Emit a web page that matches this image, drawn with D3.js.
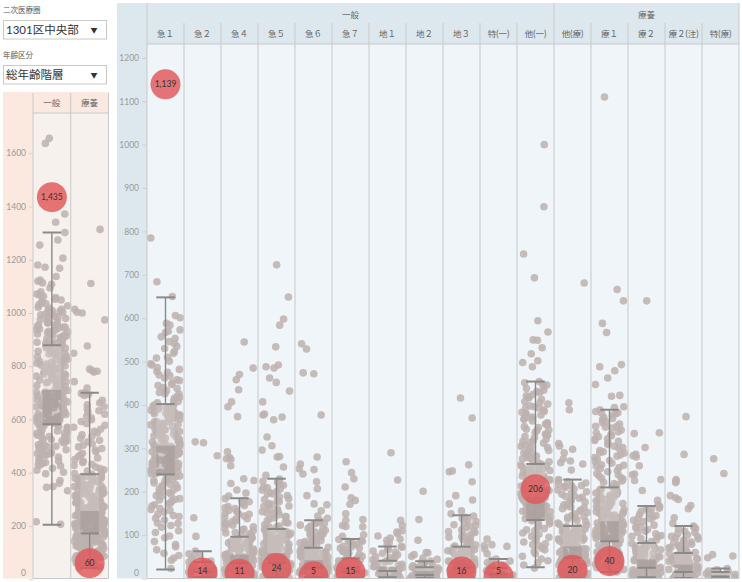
<!DOCTYPE html>
<html><head><meta charset="utf-8">
<script src="https://cdn.jsdelivr.net/npm/d3@7/dist/d3.min.js"></script>
<style>body{margin:0;background:#fff;}svg{display:block;}</style>
</head><body><svg id="c" width="742" height="582"></svg>
<script>
// ---------------- data ----------------
const filterLabels = ["二次医療圏", "年齢区分"];
const filterValues = ["1301区中央部", "総年齢階層"];

const leftCategories = ["一般", "療養"];
const leftTicks = [0, 200, 400, 600, 800, 1000, 1200, 1400, 1600];
const leftSelected = [1435, 60];
const leftLow = [205, 42];
const leftQ1 = [582, 172];
const leftMedian = [711, 256];
const leftQ3 = [879, 394];
const leftHigh = [1302, 700];

const leftIppan = [1656,1637,1372,1341,1302,1274,1255,1206,1180,1172,1168,1137,1124,1119,1113,1108,1094,1080,
1071,1066,1058,1049,1043,1038,1031,1027,1022,1014,1011,1006,1002,998,993,988,985,979,975,971,966,962,958,955,951,1063,1019,996,981,964,1052,1035,1008,987,953,
947,944,940,937,933,929,926,921,918,914,911,907,903,900,897,893,890,887,884,881,946,931,916,905,894,882,938,922,909,889,
877,871,868,861,858,856,849,846,843,839,835,829,826,822,818,815,811,808,804,801,797,793,790,786,781,779,774,770,767,763,759,756,752,748,745,741,738,734,731,727,724,720,716,713,874,864,851,837,824,812,799,787,776,765,753,742,732,721,869,846,818,794,771,749,728,715,
709,706,703,701,698,694,691,688,685,682,679,675,672,669,666,663,660,657,653,650,647,644,641,638,634,631,628,625,622,618,615,612,609,605,602,599,596,592,589,585,707,696,684,673,662,651,640,629,617,606,594,586,702,689,677,664,648,633,619,603,591,583,699,671,645,611,
580,576,573,569,566,561,557,554,549,545,541,538,533,529,525,521,516,512,508,503,499,494,490,486,481,476,471,466,461,455,449,444,438,431,425,417,409,402,578,564,551,536,519,505,488,472,459,441,428,571,547,523,497,468,436,
396,371,360,348,345,332,216,206];

const leftRyoyo = [1314,1111,1014,1003,1000,974,876,849,789,784,781,778,742,718,
700,698,695,690,672,662,655,648,640,633,628,620,612,606,599,592,585,578,571,563,556,549,542,536,529,522,516,509,503,497,491,485,479,473,467,461,455,449,443,438,432,427,421,416,411,406,401,397,
393,391,388,386,383,381,378,376,373,371,368,366,363,361,358,356,353,351,348,346,343,341,338,336,333,331,328,326,323,321,318,316,313,311,308,306,303,301,298,296,293,291,288,286,283,281,278,276,273,271,268,266,263,261,258,385,370,355,340,325,310,295,280,265,379,349,319,289,
255,253,252,250,249,247,246,244,243,241,240,238,237,235,234,232,231,229,228,226,225,223,222,220,219,217,216,214,213,211,210,208,207,205,204,202,201,199,198,196,195,193,192,190,189,187,186,184,183,181,180,178,177,175,174,251,239,227,215,203,191,179,245,221,197,
171,169,167,165,163,161,159,157,155,153,151,149,147,145,143,141,139,137,135,133,131,129,127,125,123,121,119,117,115,113,111,109,107,105,103,101,99,97,95,93,91,89,87,85,82,79,76,73,70,67,64,61,58,55,52,49,46,43,166,150,134,118,102,86,70,54,158,126,94,62];

const mainGroups = ["一般", "療養"];
const mainCategories = ["急１","急２","急４","急５","急６","急７","地１","地２","地３","特(一)","他(一)","他(療)","療１","療２","療２(注)","特(療)"];
const mainGroupOf = ["一般","一般","一般","一般","一般","一般","一般","一般","一般","一般","一般","療養","療養","療養","療養","療養"];
const mainTicks = [0,100,200,300,400,500,600,700,800,900,1000,1100,1200];
const mainSelected = [1139,14,11,24,5,15,null,null,16,5,206,20,40,null,null,null];
const mainLow    = [21, 3, 0, 2, 3, 2, 3, 2, 0, 1, 26, 1, 15, 3, 1, 0];
const mainQ1     = [240,15,36,36,25,15,17,8,25,9,135,48,86,25,15,4];
const mainMedian = [306,25,55,58,42,28,27,17,44,15,188,74,132,44,32,8];
const mainQ3     = [402,38,96,114,71,46,41,26,73,25,264,121,210,82,59,15];
const mainHigh   = [648,63,185,230,134,91,74,40,146,45,454,228,389,167,121,23];

const kyu1 = [785,684,650,606,601,588,584,573,570,567,557,553,546,541,535,530,523,519,510,508,501,495,492,486,482,477,475,469,467,462,458,456,451,447,445,440,438,433,429,426,425,420,417,416,411,408,405,403,
400,399,395,393,390,388,388,384,381,380,376,374,372,369,367,366,362,361,357,355,354,350,349,346,343,342,339,336,335,331,329,327,324,321,320,317,314,313,310,308,306,397,386,374,362,351,340,327,315,393,369,344,322,382,358,333,311,377,
305,304,301,299,298,295,293,292,289,287,286,283,280,279,277,274,273,270,268,266,264,262,261,258,256,255,252,250,249,246,244,242,241,302,297,289,281,271,265,257,248,243,299,285,270,259,247,292,276,263,251,245,300,286,268,254,
239,236,234,230,229,226,224,220,217,216,213,209,206,204,200,198,194,191,189,184,181,179,174,170,167,161,159,153,148,145,139,135,127,122,118,110,106,98,94,85,78,73,66,58,53,47,42,23,233,224,212,197,182,172,157,143,128];
const kyu2 = [315,313,283,140,97,63,57,53,48,45,40,38,36,33,31,30,27,26,23,21,20,17,15,14,11,9,8,5,3,2];
const kyu4 = [545,485,470,458,435,407,396,373,292,279,276,275,260,230,226,219,204,197,190,
184,180,177,172,168,166,161,157,155,150,148,144,140,138,133,131,128,124,123,119,115,114,110,106,105,101,99,97,178,163,149,137,126,112,103,
95,94,91,90,88,86,85,83,81,80,77,76,75,72,71,70,67,66,64,62,61,59,58,56,55,52,51,49,47,46,44,43,41,39,38,36,93,89,84,78,74,69,65,60,54,49,45,40,92,82,71,62,50,42,87,68,47,
35,34,32,31,28,27,26,24,22,21,19,18,16,14,13,11,10,8,7,5,4,2,1,33,27,20,15,9,3,30,17,6,24,12];
const kyu5 = [723,649,598,584,534,492,488,485,462,452,432,407,379,377,372,366,326,306,296,281,280,257,238,
229,227,222,218,215,211,206,204,198,195,191,188,184,180,177,171,169,166,160,158,154,151,147,143,140,137,133,130,128,124,121,119,116,224,209,195,182,167,155,142,129,118,201,173,148,
113,112,109,107,105,102,101,98,96,94,92,89,88,85,83,82,79,78,76,73,72,70,67,66,64,61,60,58,57,54,53,51,49,48,45,44,42,40,39,37,111,104,97,90,84,77,69,63,56,50,43,38,108,99,87,74,65,52,41,110,93,80,67,55,46,100,75,59,47,103,86,62,
35,34,33,31,30,28,27,26,23,22,21,19,18,16,15,14,11,10,9,7,6,4,3,2,1,0,32,29,24,20,17,12,8,5,34,26,19,12,5,30,22,13,36,25,9];
const kyu6 = [541,529,474,472,377,280,264,253,251,241,223,207,191,172,170,156,144,139,
133,131,128,126,121,118,116,114,111,107,104,103,99,96,94,93,89,87,85,82,80,77,75,74,72,127,115,101,91,81,76,123,106,86,
70,69,68,65,64,62,60,59,57,56,54,52,51,49,48,46,44,43,41,40,38,37,35,34,32,31,29,28,27,26,67,63,58,52,47,42,36,30,65,55,45,39,33,61,49,41,
24,23,22,20,19,17,16,14,13,12,10,9,8,7,5,4,3,2,1,0,22,18,15,11,6,3];
const kyu7 = [269,244,230,211,186,180,171,149,136,134,122,120,119,101,97,
90,87,86,83,80,78,74,71,70,67,63,62,58,56,54,51,48,86,73,60,
45,44,42,41,39,37,36,35,33,31,30,28,26,25,23,22,20,18,17,16,43,38,32,27,21,
14,13,12,10,9,8,7,6,5,4,3,2,1,11,5];
const chi1 = [290,227,134,122,110,107,104,98,93,91,88,83,79,74,72,69,66,63,61,58,55,53,50,48,46,43,41,40,38,36,35,33,31,30,28,27,25,24,22,21,19,18,17,15,14,12,11,9,8,6,5,3,2,1];
const chi2 = [201,136,88,60,59,55,51,47,44,40,38,37,35,33,31,29,28,26,25,24,22,21,20,18,17,16,15,13,12,11,10,9,8,7,6,5,4,3,2,1,0,27,19,14,6];
const chi3 = [416,370,262,248,246,223,191,181,172,156,149,
144,139,135,131,128,124,121,117,112,110,106,102,99,97,93,90,87,84,81,77,75,141,122,108,95,85,
72,70,67,66,64,62,60,58,57,54,52,51,48,46,45,42,40,38,37,34,32,30,28,26,71,63,55,47,39,31,68,50,35,
24,23,21,20,18,16,15,13,11,10,8,6,5,3,2,0,19,12,7];
const tokuIppan = [91,78,76,74,68,57,45,42,40,37,33,31,28,26,24,22,20,18,16,14,12,10,8,6,4,2,1];
const taIppan = [1000,857,748,693,594,568,550,549,532,518,502,498,488,
454,451,446,442,438,434,429,424,421,416,413,408,405,447,431,418,
402,398,396,393,389,385,383,379,377,372,370,367,363,359,357,354,350,348,344,341,337,333,332,327,325,321,317,314,312,307,305,302,298,295,291,288,286,282,279,276,272,269,266,394,381,368,356,342,330,316,303,290,277,
263,262,259,258,255,253,250,249,247,244,243,240,239,236,235,232,231,228,227,225,222,221,218,217,214,213,210,209,206,204,203,200,199,196,195,193,190,189,260,252,245,236,229,220,212,205,197,256,241,224,208,192,
187,186,184,182,180,179,177,176,174,173,171,169,168,166,165,163,161,160,158,157,155,154,152,150,149,147,145,144,143,141,140,138,137,136,186,181,174,168,162,156,151,144,138,183,171,159,147,
133,130,126,121,118,115,110,105,102,97,93,88,84,80,76,70,66,62,57,51,45,41,36,31,24,128,112,95,78];
const taRyo = [681,405,389,311,305,298,290,276,271,267,264,250,
228,226,223,220,218,214,212,210,206,204,200,197,194,191,187,185,182,179,176,172,170,167,163,161,158,155,152,149,145,143,140,137,134,131,128,125,123,213,189,165,141,
120,118,117,116,114,112,110,109,108,106,104,103,102,100,98,97,96,94,92,91,90,88,86,85,83,82,80,79,77,75,74,73,71,69,68,66,65,63,61,60,58,57,55,53,52,51,49,116,104,92,81,68,56,113,95,77,59,110,86,62,
47,46,44,43,42,40,39,37,36,35,33,32,31,29,28,26,25,24,22,21,19,18,17,15,14,12,11,10,8,7,5,4,3,2,1,0,44,36,28,20,12,4,40,24,8];
const ryo1 = [1110,666,640,588,567,493,488,479,462,447,422,420,396,394,
389,385,382,380,376,371,369,366,361,359,356,351,349,347,342,338,336,332,329,327,322,318,316,313,309,305,302,300,295,292,290,285,282,279,275,272,270,266,262,259,256,253,249,246,242,239,236,232,229,225,222,219,216,212,381,351,321,289,261,231,
209,207,205,204,201,199,197,195,192,191,189,187,185,182,181,179,176,175,173,171,168,167,165,162,161,159,157,154,153,151,148,147,145,143,140,139,137,135,133,206,199,190,182,174,166,158,149,142,134,194,170,146,
131,130,128,127,126,124,122,121,119,118,117,115,113,112,111,109,108,106,105,103,102,101,99,97,96,95,93,92,90,89,87,128,120,112,104,96,88,124,108,92,116,100,
85,84,81,79,77,74,73,71,68,67,65,63,60,59,57,55,52,51,49,46,45,43,40,39,37,34,33,31,28,27,25,22,21,19,17,15,80,70,61,50,41,30,20];
const ryo2 = [640,336,334,302,286,283,280,260,241,239,228,226,203,180,170,
166,162,159,155,150,148,145,141,137,134,131,127,123,119,116,113,109,106,103,99,96,92,89,85,160,139,118,97,
81,80,78,76,74,73,71,70,68,66,64,63,61,60,58,56,54,53,51,49,48,46,44,43,41,40,38,36,34,33,31,30,28,26,75,62,50,37,70,45,
24,23,22,21,20,19,18,17,16,15,14,13,12,11,10,9,8,7,6,5,4,3,2,1,0,22,17,12,7,2];
const ryo2chu = [373,286,228,224,221,191,186,182,168,161,140,127,
121,118,114,109,106,103,100,97,94,91,88,85,83,79,77,75,72,70,68,66,64,62,60,115,96,84,73,65,
58,57,55,54,52,51,49,48,46,45,43,42,40,39,37,36,34,33,31,30,28,27,25,24,22,21,19,18,16,53,44,35,26,20,
14,13,12,11,10,9,8,7,6,5,4,3,2,1,0,12,9,6,3];
const tokuRyo = [276,242,55,52,48,23,20,17,15,13,11,9,8,6,5,4,3,2,1,0];

const mainValues = [kyu1,kyu2,kyu4,kyu5,kyu6,kyu7,chi1,chi2,chi3,tokuIppan,taIppan,taRyo,ryo1,ryo2,ryo2chu,tokuRyo];
const leftValues = [leftIppan, leftRyoyo];

// ---------------- drawing ----------------
const FONT = "Lato, 'Noto Sans CJK JP', sans-serif";
const svg = d3.select("#c").style("font-family", FONT);
const GRID = "#c9c9c9";

// filters
filterLabels.forEach((lab, i) => {
  const y0 = i * 45;
  svg.append("text").attr("x", 3).attr("y", 13 + y0).attr("font-size", 7.5).attr("fill", "#555").text(lab);
  svg.append("rect").attr("x", 3.5).attr("y", 20.5 + y0).attr("width", 103).attr("height", 18.5)
    .attr("fill", "#fff").attr("stroke", "#c8c8c8");
  svg.append("text").attr("x", 6).attr("y", 34 + y0).attr("font-size", 11.5).attr("fill", "#333").text(filterValues[i]);
  svg.append("text").attr("x", 94).attr("y", 32.5 + y0).attr("font-size", 7).attr("fill", "#333").attr("text-anchor", "middle").text("▼");
});

function jit(i, seed) {
  const s = Math.sin((i + 1) * 12.9898 + seed * 78.233) * 43758.5453;
  return s - Math.floor(s);
}

function drawBox(g, cx, y, s, w) {
  const [lo, q1, md, q3, hi] = s;
  g.append("rect").attr("x", cx - w / 2).attr("width", w).attr("y", y(q3)).attr("height", y(md) - y(q3))
    .attr("fill", "#dcd6d4").attr("opacity", 0.3);
  g.append("rect").attr("x", cx - w / 2).attr("width", w).attr("y", y(md)).attr("height", y(q1) - y(md))
    .attr("fill", "#958c8a").attr("opacity", 0.4);
  g.append("line").attr("x1", cx).attr("x2", cx).attr("y1", y(hi)).attr("y2", y(q3)).attr("stroke", "#888").attr("stroke-width", 1.4);
  g.append("line").attr("x1", cx).attr("x2", cx).attr("y1", y(q1)).attr("y2", y(lo)).attr("stroke", "#888").attr("stroke-width", 1.4);
  [hi, q3, q1, lo].forEach(v => {
    g.append("line").attr("x1", cx - w / 2).attr("x2", cx + w / 2).attr("y1", y(v)).attr("y2", y(v))
      .attr("stroke", "#8a8a8a").attr("stroke-width", 2);
  });
}

function drawPanel(cfg) {
  const { cats, values, low, q1, med, q3, high, sel, x, y, top, bottom, left, right, clipId, jw, seed } = cfg;
  const defs = svg.append("defs");
  defs.append("clipPath").attr("id", clipId).append("rect")
    .attr("x", left).attr("y", top).attr("width", right - left).attr("height", bottom - top);
  const g = svg.append("g").attr("clip-path", `url(#${clipId})`);
  cats.forEach((c, ci) => {
    const cx = x(c) + x.bandwidth() / 2;
    g.append("g").selectAll("circle").data(values[ci]).join("circle")
      .attr("cx", (d, i) => cx + (jit(i, seed + ci) - 0.5) * 2 * jw)
      .attr("cy", d => y(d)).attr("r", 3.8)
      .attr("fill", "#bdb2af").attr("fill-opacity", 0.85);
  });
  cats.forEach((c, ci) => {
    const cx = x(c) + x.bandwidth() / 2;
    drawBox(g, cx, y, [low[ci], q1[ci], med[ci], q3[ci], high[ci]], 18.5);
  });
  cats.forEach((c, ci) => {
    if (sel[ci] == null) return;
    const cx = x(c) + x.bandwidth() / 2;
    g.append("circle").attr("cx", cx).attr("cy", y(sel[ci])).attr("r", 15)
      .attr("fill", "#e15759").attr("fill-opacity", 0.82);
    g.append("text").attr("x", cx).attr("y", Math.min(y(sel[ci]), bottom - 7.5))
      .attr("dy", "0.35em").attr("text-anchor", "middle").attr("font-size", 8.5).attr("fill", "#333")
      .text(d3.format(",")(sel[ci]));
  });
}

// ---- left panel ----
const LT = 92, LH = 113, LB = 578.5, LL = 33, LR = 108.5;
svg.append("rect").attr("x", 3).attr("y", LT).attr("width", LR - 3).attr("height", LB - LT).attr("fill", "#fbe8df");
svg.append("rect").attr("x", LL).attr("y", LH).attr("width", LR - LL).attr("height", LB - LH).attr("fill", "#f7f1ee");
const leftX = d3.scaleBand().domain(leftCategories).range([LL, LR]);
const leftY = d3.scaleLinear().domain([0, 1755]).range([579.2, 112]);
drawPanel({ cats: leftCategories, values: leftValues, low: leftLow, q1: leftQ1, med: leftMedian, q3: leftQ3, high: leftHigh,
  sel: leftSelected, x: leftX, y: leftY, top: LH, bottom: LB, left: LL, right: LR, clipId: "clipL", jw: 16, seed: 3 });
[LL, leftX("療養"), LR].forEach(xx => svg.append("line").attr("x1", xx).attr("x2", xx).attr("y1", 93).attr("y2", LB).attr("stroke", GRID));
svg.append("line").attr("x1", LL).attr("x2", LR).attr("y1", LH).attr("y2", LH).attr("stroke", GRID);
svg.append("line").attr("x1", LL).attr("x2", LR).attr("y1", LB).attr("y2", LB).attr("stroke", GRID);
leftCategories.forEach(c => svg.append("text").attr("x", leftX(c) + leftX.bandwidth() / 2).attr("y", 106)
  .attr("text-anchor", "middle").attr("font-size", 8.5).attr("fill", "#666").text(c));
const gLA = svg.append("g").attr("transform", `translate(${LL},0)`)
  .call(d3.axisLeft(leftY).tickValues(leftTicks).tickFormat(d3.format("d")).tickSize(4).tickPadding(3));
gLA.select(".domain").remove();
gLA.selectAll(".tick line").attr("stroke", "#d0d0d0");
gLA.selectAll(".tick text").attr("fill", "#9a9a9a").attr("font-size", 8.5).attr("font-family", FONT);
gLA.selectAll(".tick").filter(d => d === 0).select("text").attr("y", -6.5);

// ---- main panel ----
const MT = 3, MH1 = 23, MH = 44, MB = 578.5, ML = 117, MA = 147, MR = 739;
svg.append("rect").attr("x", ML).attr("y", MT).attr("width", MR - ML).attr("height", MB - MT).attr("fill", "#dde8ee");
svg.append("rect").attr("x", MA).attr("y", MH).attr("width", MR - MA).attr("height", MB - MH).attr("fill", "#eff5f9");
const mainX = d3.scaleBand().domain(mainCategories).range([MA, MR]);
const mainY = d3.scaleLinear().domain([0, 1232]).range([578.5, 44]);
drawPanel({ cats: mainCategories, values: mainValues, low: mainLow, q1: mainQ1, med: mainMedian, q3: mainQ3, high: mainHigh,
  sel: mainSelected, x: mainX, y: mainY, top: MH, bottom: MB, left: MA, right: MR, clipId: "clipM", jw: 15, seed: 11 });

mainCategories.forEach((c, i) => {
  const xx = mainX(c);
  const full = i === 0 || mainGroupOf[i] !== mainGroupOf[i - 1];
  svg.append("line").attr("x1", xx).attr("x2", xx).attr("y1", full ? MT : MH1).attr("y2", MB).attr("stroke", GRID);
});
svg.append("line").attr("x1", MR).attr("x2", MR).attr("y1", MT).attr("y2", MB).attr("stroke", GRID);
svg.append("line").attr("x1", MA).attr("x2", MR).attr("y1", MH).attr("y2", MH).attr("stroke", GRID);
svg.append("line").attr("x1", MA).attr("x2", MR).attr("y1", MB).attr("y2", MB).attr("stroke", GRID);

mainCategories.forEach(c => svg.append("text").attr("x", mainX(c) + mainX.bandwidth() / 2).attr("y", 37)
  .attr("text-anchor", "middle").attr("font-size", 8.5).attr("fill", "#666").text(c));
mainGroups.forEach(gname => {
  const cs = mainCategories.filter((c, i) => mainGroupOf[i] === gname);
  const x0 = mainX(cs[0]), x1 = mainX(cs[cs.length - 1]) + mainX.bandwidth();
  svg.append("text").attr("x", (x0 + x1) / 2).attr("y", 18).attr("text-anchor", "middle")
    .attr("font-size", 8.5).attr("fill", "#666").text(gname);
});

const gMA = svg.append("g").attr("transform", `translate(${MA},0)`)
  .call(d3.axisLeft(mainY).tickValues(mainTicks).tickFormat(d3.format("d")).tickSize(5).tickPadding(3));
gMA.select(".domain").remove();
gMA.selectAll(".tick line").attr("stroke", "#d0d0d0");
gMA.selectAll(".tick text").attr("fill", "#9a9a9a").attr("font-size", 8.5).attr("font-family", FONT);
gMA.selectAll(".tick").filter(d => d === 0).select("text").attr("y", -6);
</script></body></html>
